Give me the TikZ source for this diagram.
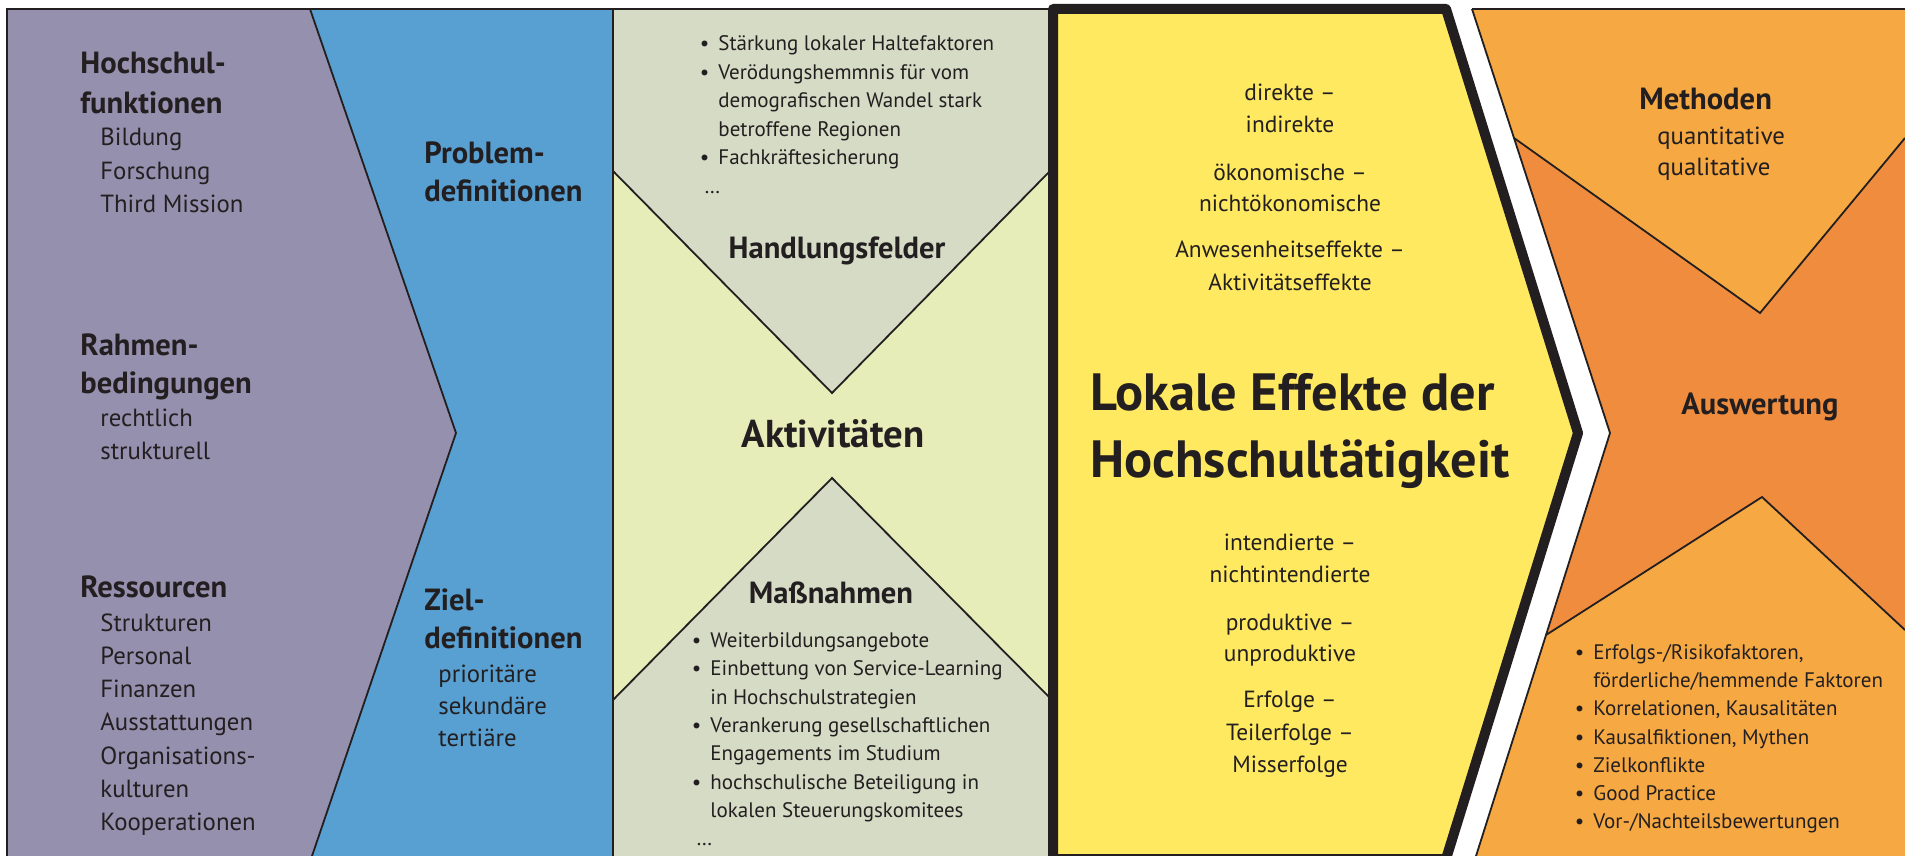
\documentclass[tikz,border=0pt]{standalone}
\usepackage{fontspec}
\setmainfont{PT Sans}
\definecolor{ink}{HTML}{231F20}
\definecolor{cpurple}{HTML}{9690AF}
\definecolor{cblue}{HTML}{58A0D2}
\definecolor{cgray}{HTML}{D5DBC5}
\definecolor{cpale}{HTML}{E6EDB9}
\definecolor{cyellow}{HTML}{FEE961}
\definecolor{corangeL}{HTML}{F6A842}
\definecolor{corangeD}{HTML}{F08C3E}
\newcommand{\bul}{\llap{•\hspace{4.5pt}}}
\tikzset{
  edge/.style={draw=ink, line width=0.9pt, line join=miter},
  txt/.style={inner sep=0pt, text=ink},
  head/.style={txt, font=\fontsize{15.3}{18}\selectfont\bfseries},
  item/.style={txt, font=\fontsize{12.4}{15}\selectfont},
  bsmall/.style={txt, font=\fontsize{10.5}{13}\selectfont},
  ymid/.style={txt, font=\fontsize{11.7}{14}\selectfont},
  big/.style={txt, font=\fontsize{26.2}{31}\selectfont\bfseries},
  act/.style={txt, font=\fontsize{19.4}{23}\selectfont\bfseries},
}
\begin{document}
\begin{tikzpicture}[x=0.5pt,y=-0.5pt]
\fill[white] (0,0) rectangle (1905,856);
\useasboundingbox (0,0) rectangle (1905,856);
% fills
\fill[cpurple] (7,9) -- (310,9) -- (456,433) -- (312,856) -- (7,856) -- cycle;
\fill[cblue] (310,9) -- (613,9) -- (613,856) -- (312,856) -- (456,433) -- cycle;
\fill[cpale] (613,9) rectangle (1050,856);
\fill[cgray] (613,9) -- (1050,9) -- (1050,171) -- (832,393) -- (613,171) -- cycle;
\fill[cgray] (613,856) -- (613,700) -- (832,478) -- (1050,698) -- (1050,856) -- cycle;
\fill[corangeD] (1472,9) -- (1905,9) -- (1905,856) -- (1476,856) -- (1610,433) -- cycle;
\fill[corangeL] (1472,9) -- (1905,9) -- (1905,138) -- (1760,313) -- (1514,138) -- cycle;
\fill[corangeL] (1546,635) -- (1762,497) -- (1905,630) -- (1905,856) -- (1476,856) -- cycle;
% thin edges
\draw[edge] (7,856) -- (7,9) -- (1050,9);
\draw[edge] (1472,9) -- (1905,9);
\draw[edge] (310,9) -- (456,433) -- (312,856);
\draw[edge] (613,9) -- (613,856);
\draw[edge] (613,171) -- (832,393) -- (1050,171);
\draw[edge] (613,700) -- (832,478) -- (1050,698);
\draw[edge] (1472,9) -- (1610,433) -- (1476,856);
\draw[edge] (1514,138) -- (1760,313) -- (1905,138);
\draw[edge] (1546,635) -- (1762,497) -- (1905,630);
% yellow box
\filldraw[fill=cyellow, draw=ink, line width=5pt, line join=round] (1053,9) -- (1446,9) -- (1578,433) -- (1446,859) -- (1053,859) -- cycle;

% purple column
\node[head, anchor=base west] (hf1) at (80,74) {Hochschul-};
\node[head, anchor=base west] (hf2) at (80,113) {funktionen};
\foreach \t [count=\i] in {Bildung,Forschung,Third Mission}
  \node[item, anchor=base west] (hfi\i) at (100,{146+(\i-1)*33.3}) {\t};
\node[head, anchor=base west] (rb1) at (80,355) {Rahmen-};
\node[head, anchor=base west] (rb2) at (80,393) {bedingungen};
\foreach \t [count=\i] in {rechtlich,strukturell}
  \node[item, anchor=base west] (rbi\i) at (100,{426+(\i-1)*33.3}) {\t};
\node[head, anchor=base west] (rs) at (80,597) {Ressourcen};
\foreach \t [count=\i] in {Strukturen,Personal,Finanzen,Ausstattungen,Organisations-,kulturen,Kooperationen}
  \node[item, anchor=base west] (rsi\i) at (100,{631+(\i-1)*33.3}) {\t};

% blue column
\node[head, anchor=base west] (pd1) at (424,163) {Problem-};
\node[head, anchor=base west] (pd2) at (424,201) {definitionen};
\node[head, anchor=base west] (zd1) at (424,610) {Ziel-};
\node[head, anchor=base west] (zd2) at (424,648) {definitionen};
\foreach \t [count=\i] in {prioritäre,sekundäre,tertiäre}
  \node[item, anchor=base west] (zdi\i) at (438,{682+(\i-1)*32}) {\t};

% green column
\foreach \t [count=\i] in {{\bul Stärkung lokaler Haltefaktoren},{\bul Verödungshemmnis für vom},{demografischen Wandel stark},{betroffene Regionen},{\bul Fachkräftesicherung}}
  \node[bsmall, anchor=base west] (hl\i) at (718,{51+(\i-1)*28.4}) {\t};
\node[bsmall, anchor=base west] (hldots) at (704,193) {\dots};
\node[head, anchor=base] (hfeld) at (837,258) {Handlungsfelder};
\node[act, anchor=base] (akt) at (833,447) {Aktivitäten};
\node[head, anchor=base] (mn) at (831,603) {Maßnahmen};
\foreach \t [count=\i] in {{\bul Weiterbildungsangebote},{\bul Einbettung von Service-Learning},{in Hochschulstrategien},{\bul Verankerung gesellschaftlichen},{Engagements im Studium},{\bul hochschulische Beteiligung in},{lokalen Steuerungskomitees}}
  \node[bsmall, anchor=base west] (mnl\i) at (710,{647.5+(\i-1)*28.3}) {\t};
\node[bsmall, anchor=base west] (mndots) at (696,845) {\dots};

% yellow box texts
\foreach \y/\t [count=\i] in {101/direkte –,133/indirekte,180/ökonomische –,211/nichtökonomische,257/Anwesenheitseffekte –,290/Aktivitätseffekte,550/intendierte –,582/nichtintendierte,630/produktive –,661/unproduktive,707/Erfolge –,740/Teilerfolge –,772/Misserfolge}
  \node[ymid, anchor=base] (ef\i) at (1290,\y) {\t};
\node[big, anchor=base west] (le1) at (1090,410) {Lokale Effekte der};
\node[big, anchor=base west] (le2) at (1090,477) {Hochschultätigkeit};

% orange column
\node[head, anchor=base west] (meth) at (1639,110) {Methoden};
\node[item, anchor=base west] (meth1) at (1657,144) {quantitative};
\node[item, anchor=base west] (meth2) at (1657,176) {qualitative};
\node[head, anchor=base] (ausw) at (1760,414) {Auswertung};
\foreach \t [count=\i] in {{\bul Erfolgs-/Risikofaktoren,},{förderliche/hemmende Faktoren},{\bul Korrelationen, Kausalitäten},{\bul Kausalfiktionen, Mythen},{\bul Zielkonflikte},{\bul Good Practice},{\bul Vor-/Nachteilsbewertungen}}
  \node[bsmall, anchor=base west] (aw\i) at (1593,{659.5+(\i-1)*28.2}) {\t};
\end{tikzpicture}
\end{document}
